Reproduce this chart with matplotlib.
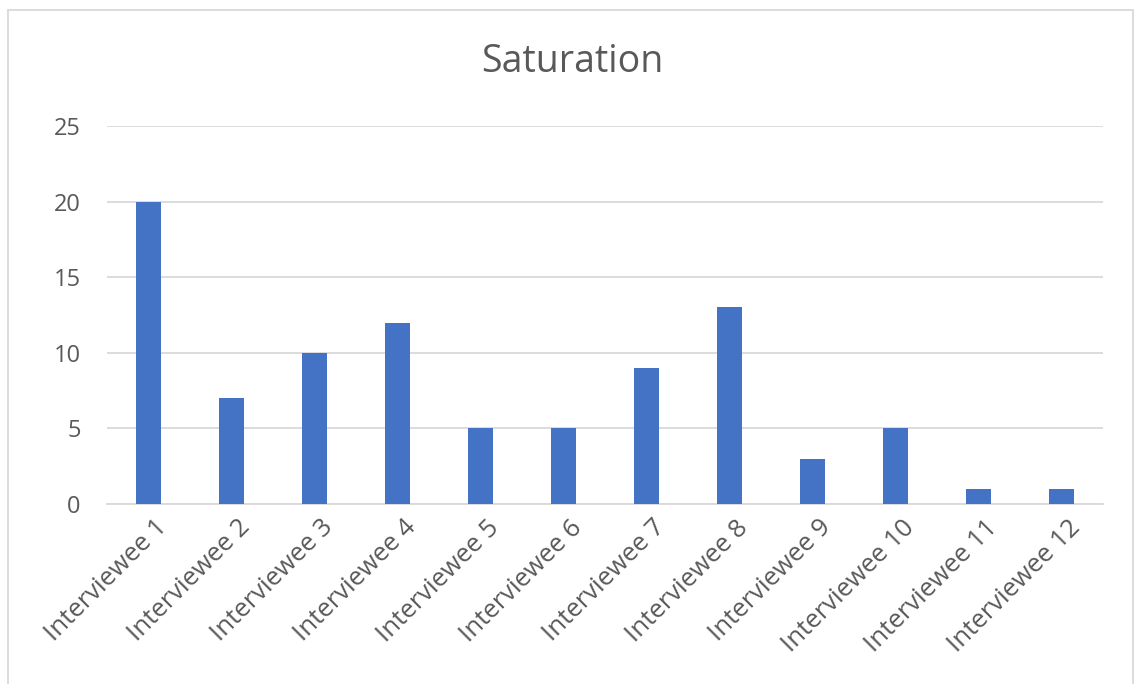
import matplotlib
matplotlib.use("Agg")
import matplotlib.pyplot as plt
from matplotlib.patches import Rectangle
import matplotlib.transforms as mtransforms

categories = ["Interviewee 1", "Interviewee 2", "Interviewee 3", "Interviewee 4",
              "Interviewee 5", "Interviewee 6", "Interviewee 7", "Interviewee 8",
              "Interviewee 9", "Interviewee 10", "Interviewee 11", "Interviewee 12"]
values = [20, 7, 10, 12, 5, 5, 9, 13, 3, 5, 1, 1]
y_ticks = [0, 5, 10, 15, 20, 25]

plt.rcParams['font.family'] = ['Open Sans', 'DejaVu Sans']
text_col = '#595959'
grid_col = '#D9D9D9'

fig = plt.figure(figsize=(11.35, 6.84), dpi=100)
ax = fig.add_axes([107 / 1135, 1 - 504 / 684, 996 / 1135, 378 / 684])

x = range(len(categories))
ax.bar(x, values, width=0.31, color='#4472C4', zorder=3)

ax.set_xlim(-0.5, len(categories) - 0.5)
ax.set_ylim(0, 25)
ax.set_yticks(y_ticks)
ax.yaxis.grid(True, color=grid_col, linewidth=1.3, zorder=0)
ax.tick_params(axis='y', length=0, pad=19, labelsize=17, labelcolor=text_col)
ax.tick_params(axis='x', length=0, pad=8, labelsize=18.5, labelcolor=text_col)

ax.set_xticks(list(x))
ax.set_xticklabels(categories, rotation=45, ha='right', rotation_mode='anchor')
offset = mtransforms.ScaledTranslation(6 / 100, 0, fig.dpi_scale_trans)
for lbl in ax.get_xticklabels():
    lbl.set_transform(lbl.get_transform() + offset)

for side in ['top', 'right', 'left']:
    ax.spines[side].set_visible(False)
ax.spines['bottom'].set_color(grid_col)
ax.spines['bottom'].set_linewidth(1.3)

fig.text(572 / 1135, 1 - 62 / 684, "Saturation", ha='center', va='center',
         fontsize=27, color=text_col)

# chart area outline
fig.patches.append(Rectangle((8 / 1135, -0.01), 1125 / 1135, 1 - 10 / 684 + 0.01,
                             transform=fig.transFigure, fill=False,
                             edgecolor=grid_col, linewidth=1.3))

fig.savefig("out.png", dpi=100, facecolor='white')
